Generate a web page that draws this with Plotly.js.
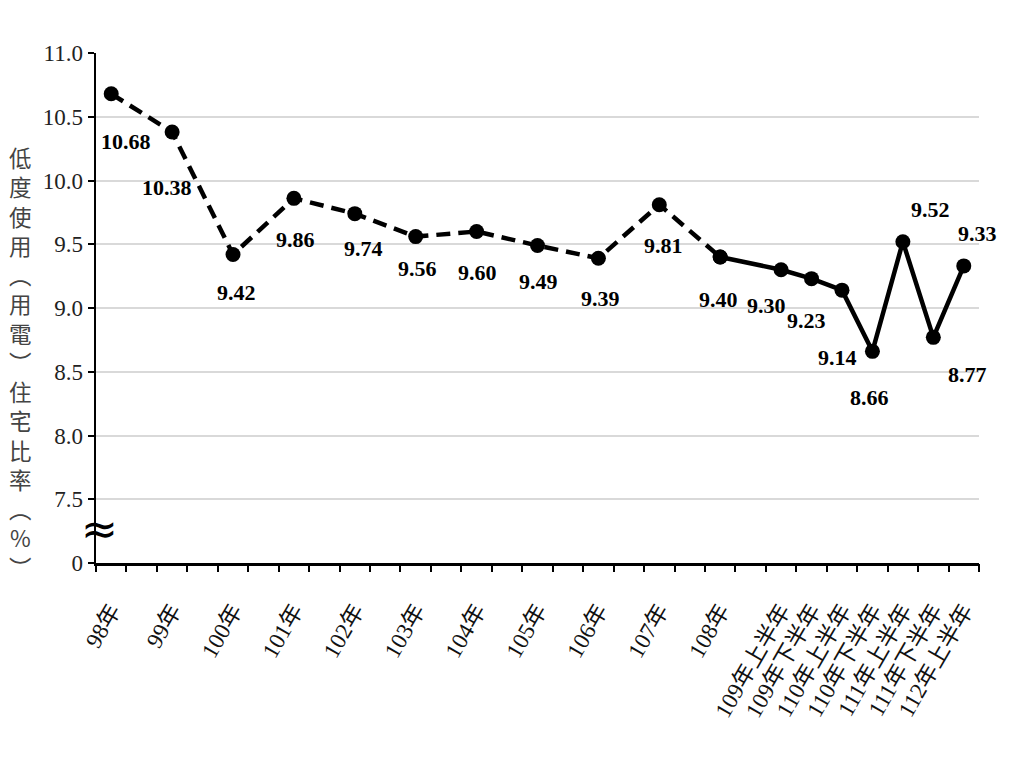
<!DOCTYPE html>
<html>
<head>
<meta charset="utf-8">
<script src="https://cdn.plot.ly/plotly-3.0.1.min.js"></script>
<style>html,body{margin:0;padding:0;background:#fff;}#chart{width:1024px;height:768px;}</style>
</head>
<body>
<div id="chart"></div>
<script>
// ---- data ----
const yearLabels = ['98年','99年','100年','101年','102年','103年','104年','105年','106年','107年','108年'];
const yearValues = [10.68, 10.38, 9.42, 9.86, 9.74, 9.56, 9.60, 9.49, 9.39, 9.81, 9.40];
const halfLabels = ['109年上半年','109年下半年','110年上半年','110年下半年','111年上半年','111年下半年','112年上半年'];
const halfValues = [9.30, 9.23, 9.14, 8.66, 9.52, 8.77, 9.33];
const yTickText = ['0','7.5','8.0','8.5','9.0','9.5','10.0','10.5','11.0'];
const yTickVals = [7.0, 7.5, 8.0, 8.5, 9.0, 9.5, 10.0, 10.5, 11.0]; // "0" sits at the axis break
const yTitle = '低度使用︵用電︶住宅比率︵%︶';

// ---- layout helpers (positions / styles) ----
const yearX = yearLabels.map((_, i) => 0.5 + 2 * i);
const halfX = halfLabels.map((_, j) => 22.5 + j);
const allX = yearX.concat(halfX);
const allLabels = yearLabels.concat(halfLabels);
const allValues = yearValues.concat(halfValues);
// label offsets in px [dx, dy-down]
const labelOffsets = [[15,48],[-5,55],[3,38],[2,41],[9,35],[2,32],[1,41],[1,36],[2,40],[4,41],[-2,42],
                      [-15,36],[-5,42],[-4,67],[-3,46],[28,-32],[34,37],[14,-32]];

const serif = '"Liberation Serif", "Noto Sans CJK TC", serif';

const traces = [
  {
    x: yearX, y: yearValues, xaxis: 'x', yaxis: 'y',
    type: 'scatter', mode: 'lines+markers',
    line: {color: '#000', width: 4.5, dash: '14px,8px'},
    marker: {color: '#000', size: 15},
    hoverinfo: 'skip'
  },
  {
    x: [yearX[yearX.length - 1]].concat(halfX),
    y: [yearValues[yearValues.length - 1]].concat(halfValues),
    xaxis: 'x', yaxis: 'y',
    type: 'scatter', mode: 'lines+markers',
    line: {color: '#000', width: 4.5},
    marker: {color: '#000', size: 15},
    hoverinfo: 'skip'
  },
  {
    x: [0], y: [7], xaxis: 'x2', yaxis: 'y',
    type: 'scatter', mode: 'markers', marker: {opacity: 0}, hoverinfo: 'skip'
  }
];

const annotations = allValues.map((v, i) => ({
  x: allX[i], y: v, xref: 'x', yref: 'y',
  text: v.toFixed(2), showarrow: false,
  xshift: labelOffsets[i][0], yshift: -labelOffsets[i][1],
  font: {family: serif, size: 22, color: '#000', weight: 'bold'}
}));

annotations.push({
  xref: 'paper', yref: 'paper', x: -0.085, y: 0.394,
  xanchor: 'center', yanchor: 'middle', showarrow: false,
  text: Array.from(yTitle).join('<br>'),
  font: {family: '"Noto Sans CJK TC", sans-serif', size: 22.5, color: '#444'}
});
annotations.push({
  xref: 'paper', yref: 'y', x: 0.004, y: 7.27, xanchor: 'center', yanchor: 'middle',
  showarrow: false, text: '≈',
  font: {family: '"DejaVu Sans", sans-serif', size: 44, color: '#000'}
});

const layout = {
  width: 1024, height: 768,
  margin: {l: 96, r: 45, t: 53, b: 205},
  paper_bgcolor: '#fff', plot_bgcolor: '#fff',
  showlegend: false,
  xaxis: {
    range: [0, 29], tickmode: 'array', tickvals: allX, ticktext: allLabels,
    ticks: '', tickangle: -60, ticklabelstandoff: 22,
    tickfont: {family: serif, size: 23, color: '#111'},
    showline: true, linecolor: '#000', linewidth: 3,
    showgrid: false, zeroline: false, fixedrange: true
  },
  xaxis2: {
    range: [0, 29], overlaying: 'x', anchor: 'y', side: 'bottom',
    tickmode: 'array', tickvals: Array.from({length: 30}, (_, k) => k),
    ticks: 'outside', ticklen: 8, tickwidth: 2, tickcolor: '#000',
    showticklabels: false, showgrid: false, zeroline: false, showline: false
  },
  yaxis: {
    range: [7, 11], tickmode: 'array', tickvals: yTickVals, ticktext: yTickText,
    ticks: 'outside', ticklen: 6, tickwidth: 2, tickcolor: '#000',
    tickfont: {family: serif, size: 23, color: '#222'},
    showline: true, linecolor: '#000', linewidth: 2.5,
    showgrid: true, gridcolor: '#d9d9d9', gridwidth: 2, zeroline: false
  },
  annotations: annotations
};

Plotly.newPlot('chart', traces, layout, {displayModeBar: false, staticPlot: true});
</script>
</body>
</html>
